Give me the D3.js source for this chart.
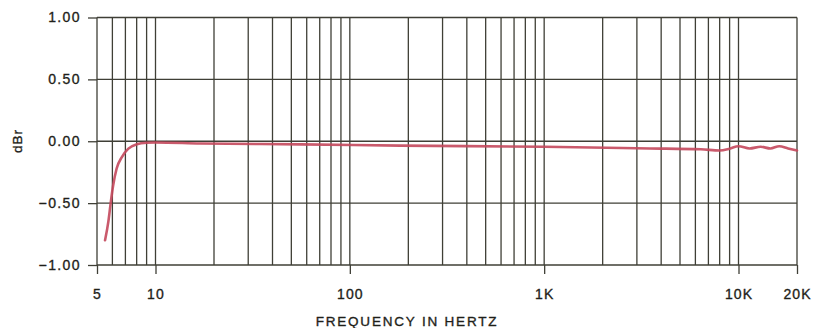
<!DOCTYPE html>
<html>
<head>
<meta charset="utf-8">
<script src="https://cdn.jsdelivr.net/npm/d3@7"></script>
<style>
  html, body { margin: 0; padding: 0; background: #fff; }
  svg { display: block; }
  text { font-family: "Liberation Sans", Arial, Helvetica, sans-serif; fill: #1f1f1a; }
</style>
</head>
<body>
<svg id="chart" width="815" height="328"></svg>
<script>
// ---- data ----
const freqs  = [5.5, 5.72, 5.88, 6.05, 6.31, 6.7, 7.25, 8, 9, 10, 17, 56, 182, 1000, 3500, 6400, 8000, 9000, 10000, 11400, 13000, 14600, 16200, 18000, 20000];
const values = [-0.80, -0.65, -0.50, -0.36, -0.22, -0.13, -0.06, -0.025, -0.012, -0.01, -0.018, -0.025, -0.035, -0.045, -0.058, -0.065, -0.075, -0.06, -0.04, -0.058, -0.045, -0.058, -0.04, -0.058, -0.075];
const xLabelValues = [5, 10, 100, 1000, 10000, 20000];
const xLabels = ["5", "10", "100", "1K", "10K", "20K"];
const yTickValues = [1, 0.5, 0, -0.5, -1];
const yLabels = ["1.00", "0.50", "0.00", "\u22120.50", "\u22121.00"];
const xTitle = "FREQUENCY IN HERTZ";
const yTitle = "dBr";

// ---- layout ----
const svg = d3.select("#chart");
const mLeft = 97, mRight = 797, mTop = 17.5, mBottom = 265;
const x = d3.scaleLog().domain([5, 20000]).range([mLeft, mRight]);
const y = d3.scaleLinear().domain([-1, 1]).range([mBottom, mTop]);
const gridColor = "#3f3f36";
const textColor = "#1f1f1a";

// vertical grid lines (1-9 per decade)
const gridX = x.ticks();
svg.append("g").selectAll("line").data(gridX).join("line")
  .attr("x1", d => x(d)).attr("x2", d => x(d))
  .attr("y1", mTop).attr("y2", mBottom)
  .attr("stroke", gridColor).attr("stroke-width", 1.3);

// horizontal grid lines
svg.append("g").selectAll("line").data(yTickValues).join("line")
  .attr("x1", mLeft).attr("x2", mRight)
  .attr("y1", d => y(d)).attr("y2", d => y(d))
  .attr("stroke", gridColor).attr("stroke-width", 1.3);

function styleText(sel, size, ls) {
  sel.attr("font-size", size).attr("letter-spacing", ls)
    .attr("fill", textColor).attr("stroke", textColor).attr("stroke-width", 0.35)
    .attr("font-family", "Liberation Sans, Arial, sans-serif");
}

// y axis ticks + labels
const yAxis = d3.axisLeft(y).tickValues(yTickValues)
  .tickFormat((d, i) => yLabels[i]).tickSize(9).tickPadding(7);
const gy = svg.append("g").attr("transform", `translate(${mLeft},0)`).call(yAxis);
gy.select(".domain").remove();
gy.selectAll(".tick line").attr("stroke", gridColor).attr("stroke-width", 1.3);
styleText(gy.selectAll(".tick text"), 14, "1.4px");

// x axis ticks + labels
const xAxis = d3.axisBottom(x).tickValues(xLabelValues)
  .tickFormat((d, i) => xLabels[i]).tickSize(9).tickPadding(15);
const gx = svg.append("g").attr("transform", `translate(0,${mBottom})`).call(xAxis);
gx.select(".domain").remove();
gx.selectAll(".tick line").attr("stroke", gridColor).attr("stroke-width", 1.3);
styleText(gx.selectAll(".tick text"), 14, "1.1px");

// titles
styleText(svg.append("text").attr("x", 407).attr("y", 326).attr("text-anchor", "middle").text(xTitle), 13.5, "1.8px");
styleText(svg.append("text").attr("transform", "translate(22,141) rotate(-90)")
  .attr("text-anchor", "middle").text(yTitle), 13.5, "1px");

// response line
const line = d3.line().x((d, i) => x(freqs[i])).y(d => y(d)).curve(d3.curveMonotoneX);
svg.append("path").datum(values)
  .attr("d", line).attr("fill", "none")
  .attr("stroke", "#c4485c").attr("stroke-width", 2.6).attr("stroke-opacity", 0.9)
  .attr("stroke-linecap", "round");
</script>
</body>
</html>
